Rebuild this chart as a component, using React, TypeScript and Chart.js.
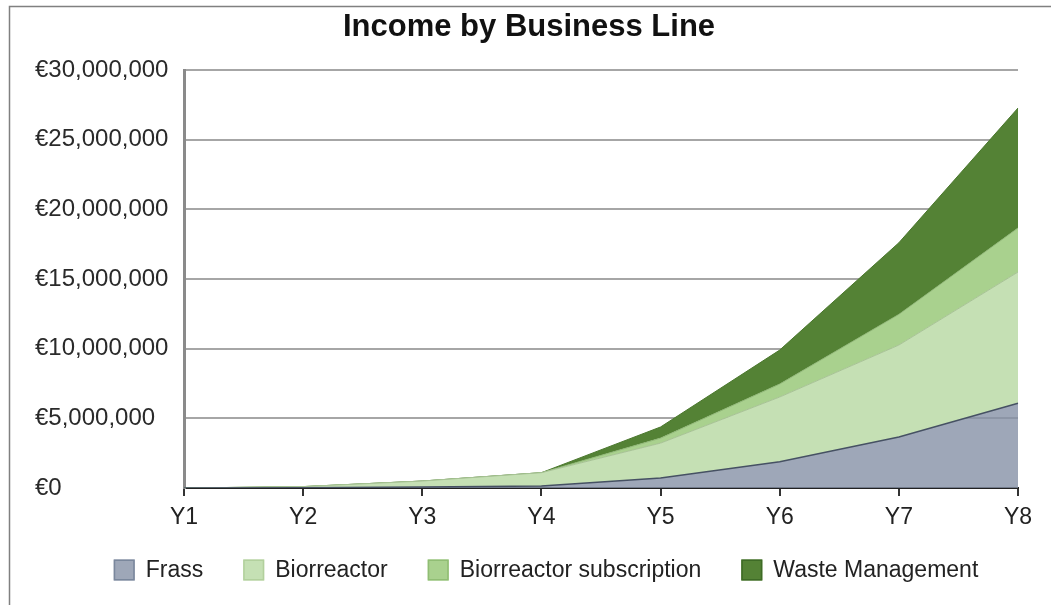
import React, { useEffect, useRef } from "react";
import { Chart, registerables } from "chart.js";

Chart.register(...registerables);

const chartTitle = "Income by Business Line";
const categories = ["Y1", "Y2", "Y3", "Y4", "Y5", "Y6", "Y7", "Y8"];
const seriesNames = ["Frass", "Biorreactor", "Biorreactor subscription", "Waste Management"];
const frass = [0, 20000, 80000, 150000, 720000, 1880000, 3660000, 6080000];
const biorreactor = [0, 80000, 420000, 950000, 2500000, 4650000, 6600000, 9420000];
const biorreactorSubscription = [0, 0, 0, 0, 360000, 930000, 2200000, 3160000];
const wasteManagement = [0, 0, 0, 0, 800000, 2440000, 5140000, 8610000];
const yMin = 0;
const yMax = 30000000;
const yStep = 5000000;

const FONT = "'Liberation Sans', Arial, Helvetica, sans-serif";
const fills = ["rgba(134,145,166,0.8)", "#c5e0b4", "#a9d18e", "#548235"];
const lines = ["#465163", "#a7c295", "#8fb676", "#4a772d"];
const legendBorders = ["#7a879c", "#b2d09d", "#90bd74", "#3e6b26"];

const decorPlugin = {
  id: "decor",
  beforeDraw(chart: any) {
    const { ctx, width, height } = chart;
    ctx.save();
    ctx.fillStyle = "#ffffff";
    ctx.fillRect(0, 0, width, height);
    ctx.strokeStyle = "#808080";
    ctx.lineWidth = 1.5;
    ctx.beginPath();
    ctx.moveTo(9.5, height);
    ctx.lineTo(9.5, 6.5);
    ctx.lineTo(width, 6.5);
    ctx.stroke();
    ctx.restore();
  },
  afterDraw(chart: any) {
    const { ctx } = chart;
    ctx.save();
    // title
    ctx.fillStyle = "#111111";
    ctx.font = `bold 31px ${FONT}`;
    ctx.textAlign = "center";
    ctx.textBaseline = "middle";
    ctx.fillText(chartTitle, 529, 27);

    // legend
    ctx.font = `23px ${FONT}`;
    const box = 21;
    const gapText = 11;
    const gapItem = 40;
    const ds = chart.data.datasets;
    const widths = ds.map((d: any) => box + gapText + ctx.measureText(d.label).width);
    const total = widths.reduce((a: number, b: number) => a + b, 0) + gapItem * (ds.length - 1);
    let x = 546 - total / 2;
    const cy = 570;
    ctx.textAlign = "left";
    ctx.textBaseline = "middle";
    ds.forEach((d: any, i: number) => {
      ctx.fillStyle = fills[i];
      ctx.fillRect(x, cy - box / 2, box, box);
      ctx.strokeStyle = legendBorders[i];
      ctx.lineWidth = 1.5;
      ctx.strokeRect(x + 0.75, cy - box / 2 + 0.75, box - 1.5, box - 1.5);
      ctx.fillStyle = "#222222";
      ctx.fillText(d.label, x + box + gapText, cy + 1);
      x += widths[i] + gapItem;
    });
    ctx.restore();
  },
};

export default function App() {
  const ref = useRef<HTMLCanvasElement>(null);

  useEffect(() => {
    if (!ref.current) return;
    const seriesData = [frass, biorreactor, biorreactorSubscription, wasteManagement];
    const chart = new Chart(ref.current, {
      type: "line",
      data: {
        labels: categories,
        datasets: seriesData.map((data, i) => ({
          label: seriesNames[i],
          data,
          fill: i === 0 ? "origin" : "-1",
          backgroundColor: fills[i],
          borderColor: lines[i],
          borderWidth: i === 0 ? 1.5 : 1,
          pointRadius: 0,
          tension: 0,
        })),
      },
      options: {
        responsive: false,
        animation: false,
        layout: { padding: { left: 35, right: 33, top: 70, bottom: 77 } },
        plugins: {
          legend: { display: false },
          title: { display: false },
          tooltip: { enabled: false },
        },
        scales: {
          x: {
            type: "category",
            offset: false,
            grid: {
              drawOnChartArea: false,
              drawTicks: true,
              tickLength: 8,
              color: "#333333",
              lineWidth: 2,
            },
            border: { color: "#222222", width: 2 },
            ticks: {
              color: "#222222",
              font: { family: FONT, size: 23 },
              padding: 8,
              maxRotation: 0,
            },
            afterFit(scale: any) {
              scale.height = 40;
            },
          },
          y: {
            stacked: true,
            min: yMin,
            max: yMax,
            ticks: {
              stepSize: yStep,
              padding: 17,
              crossAlign: "far",
              color: "#2a2a2a",
              font: { family: FONT, size: 24 },
              callback: (v: any) => "€" + Number(v).toLocaleString("en-US"),
            },
            grid: { color: "#a6a6a6", lineWidth: 2, drawTicks: false },
            border: { color: "#8a8a8a", width: 3 },
            afterFit(scale: any) {
              scale.width = 149;
            },
          },
        },
      },
      plugins: [decorPlugin],
    });
    return () => chart.destroy();
  }, []);

  return (
    <div style={{ position: "fixed", left: 0, top: 0, width: 1051, height: 605 }}>
      <canvas ref={ref} width={1051} height={605} style={{ display: "block" }} />
    </div>
  );
}
